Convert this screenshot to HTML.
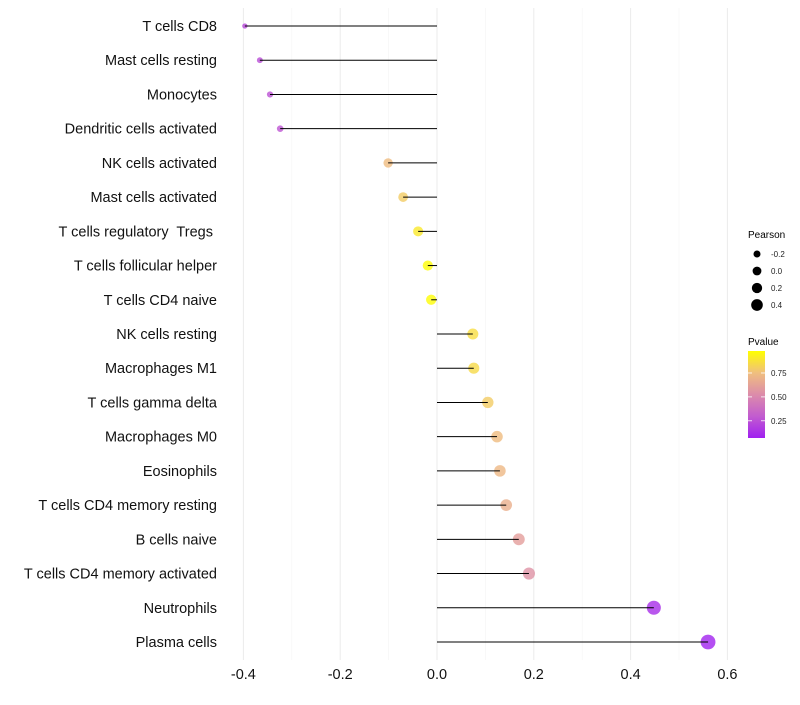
<!DOCTYPE html>
<html><head><meta charset="utf-8"><style>
body{margin:0;background:#fff;font-family:"Liberation Sans",Arial,sans-serif}
svg text{font-family:"Liberation Sans",Arial,sans-serif}
</style></head><body>
<svg id="chart" width="800" height="700" xmlns="http://www.w3.org/2000/svg">
<defs><linearGradient id="pg" x1="0" y1="1" x2="0" y2="0">
<stop offset="0" stop-color="#A020F0"/><stop offset="0.25" stop-color="#C25CCF"/><stop offset="0.5" stop-color="#DC8CAA"/><stop offset="0.75" stop-color="#F0BF7E"/><stop offset="1" stop-color="#FFFF00"/>
</linearGradient></defs>
<g id="grid"></g><g id="points"></g><g id="stems"></g><g id="ylab"></g><g id="xlab"></g>
<g id="legend">
<text x="748" y="238" font-size="10">Pearson</text>
<text x="748" y="345" font-size="10">Pvalue</text>
<rect x="748" y="351" width="17" height="87" fill="url(#pg)"/>
</g>
</svg>
<script>
const categories=["T cells CD8","Mast cells resting","Monocytes","Dendritic cells activated","NK cells activated","Mast cells activated","T cells regulatory  Tregs ","T cells follicular helper","T cells CD4 naive","NK cells resting","Macrophages M1","T cells gamma delta","Macrophages M0","Eosinophils","T cells CD4 memory resting","B cells naive","T cells CD4 memory activated","Neutrophils","Plasma cells"];
const pearson=[-0.397,-0.366,-0.345,-0.324,-0.101,-0.070,-0.039,-0.019,-0.012,0.074,0.076,0.105,0.124,0.130,0.143,0.169,0.190,0.448,0.560];
const pvalue=[0.22,0.24,0.26,0.27,0.74,0.80,0.90,0.97,0.97,0.86,0.85,0.80,0.74,0.72,0.68,0.60,0.55,0.12,0.08];
const xTicks=[-0.4,-0.2,0.0,0.2,0.4,0.6];
const xTickLabels=["-0.4","-0.2","0.0","0.2","0.4","0.6"];
const sizeLegend=[-0.2,0.0,0.2,0.4];
const pTicks=[0.25,0.50,0.75];
const NS="http://www.w3.org/2000/svg";
const X=v=>437+v*484;
const Y=i=>26+i*(616/18);
const R=v=>Math.sqrt(Math.max(4,27+50*v));
const P=p=>438-(p-0.07)/(0.98-0.07)*87;
const stops=[[0,[160,32,240]],[0.25,[194,92,207]],[0.5,[220,140,170]],[0.75,[240,191,126]],[1,[255,255,0]]];
function col(p){let t=Math.min(1,Math.max(0,(p-0.07)/(0.98-0.07)));for(let k=0;k<stops.length-1;k++){const a=stops[k],b=stops[k+1];if(t<=b[0]){const f=(t-a[0])/(b[0]-a[0]);return 'rgb('+a[1].map((c,j)=>Math.round(c+(b[1][j]-c)*f)).join(',')+')';}}return 'rgb(255,255,0)';}
function mk(tag,attrs,parent,text){const e=document.createElementNS(NS,tag);for(const k in attrs)e.setAttribute(k,attrs[k]);if(text!==undefined)e.textContent=text;document.getElementById(parent).appendChild(e);return e;}
const gTop=8,gBot=660;
for(let k=-4;k<=6;k++){const v=k/10;const major=(k%2===0);
const g=mk('line',{x1:X(v),x2:X(v),y1:gTop,y2:gBot,stroke:major?'#ebebeb':'#f4f4f4','stroke-width':major?1:0.6},'grid');

}
xTicks.forEach((v,i)=>{const t=mk('text',{x:X(v),y:679,'font-size':14.5,'text-anchor':'middle',fill:'#111'},'xlab',xTickLabels[i]);

});
categories.forEach((c,i)=>{const y=Y(i);
const t=mk('text',{x:217,y:y+5,'font-size':14.5,'text-anchor':'end',fill:'#111'},'ylab',c);


t.style.whiteSpace='pre';
const d=mk('circle',{cx:X(pearson[i]),cy:y,r:R(pearson[i]),fill:col(pvalue[i]),'fill-opacity':0.8},'points');


const l=mk('line',{x1:X(0),x2:X(pearson[i]),y1:y,y2:y,stroke:'#000','stroke-width':1},'stems');

});
sizeLegend.forEach((v,i)=>{const y=254+i*17;
const c=mk('circle',{cx:757,cy:y,r:R(v)*0.85},'legend');


const t=mk('text',{x:771,y:y+3,'font-size':8,fill:'#222'},'legend',v.toFixed(1));

});
pTicks.forEach(p=>{const y=P(p);
const a=mk('line',{x1:748,x2:752,y1:y,y2:y,stroke:'#fff','stroke-width':0.8},'legend');


const b=mk('line',{x1:761,x2:765,y1:y,y2:y,stroke:'#fff','stroke-width':0.8},'legend');


const t=mk('text',{x:771,y:y+3,'font-size':8,fill:'#222'},'legend',p.toFixed(2));

});
</script>
</body></html>
